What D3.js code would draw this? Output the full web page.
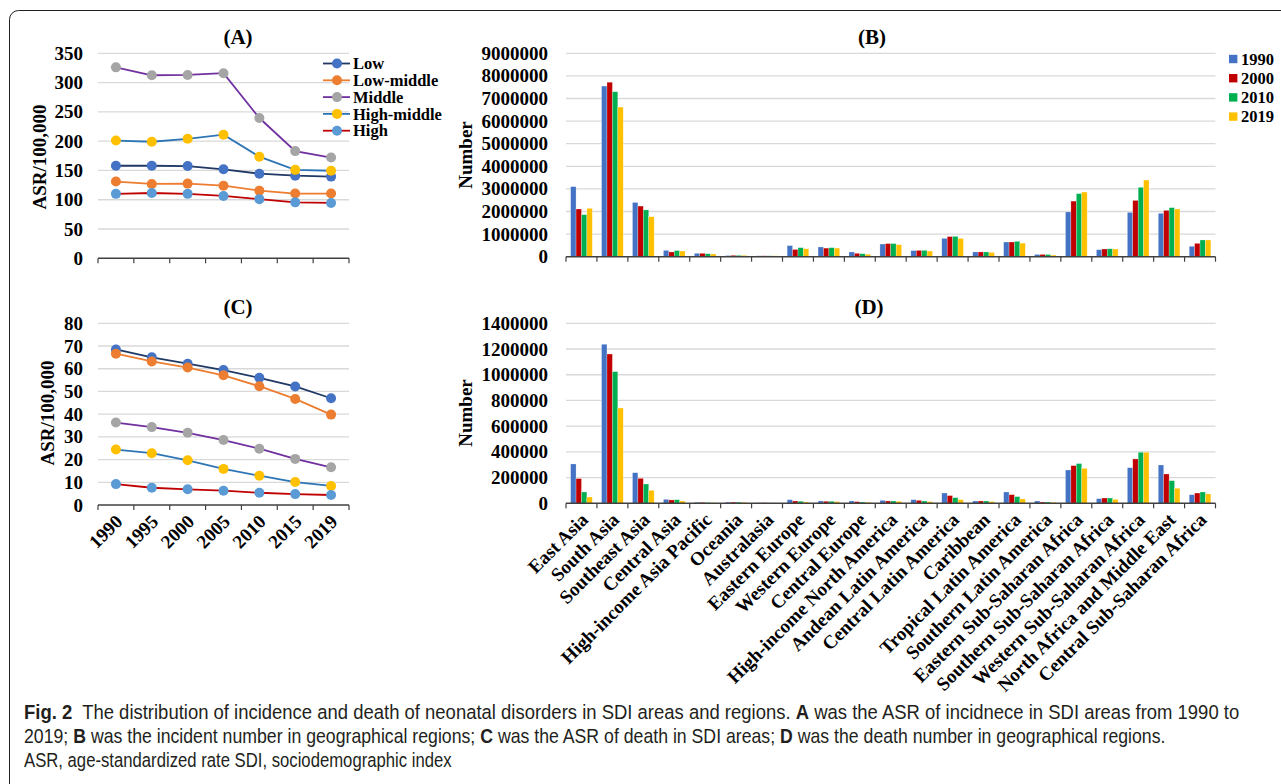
<!DOCTYPE html>
<html><head><meta charset="utf-8">
<script src="https://cdn.jsdelivr.net/npm/d3@7"></script>
<style>
html,body{margin:0;padding:0;background:#fff;}
svg{display:block;}
</style></head>
<body>
<svg id="chart" width="1281" height="784"></svg>
<script>
// ---------- DATA ----------
const years = ["1990","1995","2000","2005","2010","2015","2019"];
const sdiGroups = ["Low","Low-middle","Middle","High-middle","High"];

// (A) ASR of incidence per 100,000
const incLow     = [158,158,157.5,152,144.5,141,139.5];
const incLowMid  = [131,127,127.5,124,115.5,110.5,110.5];
const incMid     = [326,312.5,313,316,239.5,183,172];
const incHighMid = [201,199,204,211,173.5,151,149.5];
const incHigh    = [110,111.5,110,106.5,101,95.5,94.5];

// (C) ASR of death per 100,000
const deathLow     = [68.5,65,62.2,59.4,56,52.2,47];
const deathLowMid  = [66.6,63.2,60.5,57.1,52.3,46.7,39.8];
const deathMid     = [36.3,34.3,31.8,28.6,24.8,20.3,16.6];
const deathHighMid = [24.4,22.8,19.7,15.9,12.9,10.1,8.4];
const deathHigh    = [9.2,7.6,6.9,6.3,5.4,4.8,4.4];

const regions = ["East Asia","South Asia","Southeast Asia","Central Asia","High-income Asia Pacific","Oceania","Australasia","Eastern Europe","Western Europe","Central Europe","High-income North America","Andean Latin America","Central Latin America","Caribbean","Tropical Latin America","Southern Latin America","Eastern Sub-Saharan Africa","Southern Sub-Saharan Africa","Western Sub-Saharan Africa","North Africa and Middle East","Central Sub-Saharan Africa"];
const barYears = ["1990","2000","2010","2019"];

// (B) incident number
const inc1990 = [3100000,7550000,2400000,280000,150000,50000,40000,490000,430000,210000,560000,270000,810000,210000,650000,100000,1980000,310000,1960000,1920000,460000];
const inc2000 = [2110000,7720000,2240000,210000,150000,60000,40000,320000,380000,150000,580000,280000,890000,210000,650000,100000,2460000,340000,2490000,2050000,590000];
const inc2010 = [1860000,7300000,2070000,270000,130000,60000,40000,400000,400000,130000,580000,280000,900000,210000,680000,100000,2790000,350000,3070000,2170000,740000];
const inc2019 = [2140000,6620000,1770000,250000,120000,60000,40000,350000,380000,110000,530000,250000,810000,190000,600000,70000,2860000,340000,3390000,2110000,740000];

// (D) death number
const death1990 = [306000,1237000,238000,31000,8000,9000,4000,28000,18000,18000,23000,28000,80000,18000,88000,18000,259000,36000,277000,298000,67000];
const death2000 = [192000,1161000,194000,26000,7000,9000,4000,18000,16000,13000,18000,23000,60000,18000,67000,10000,293000,41000,345000,228000,80000];
const death2010 = [88000,1024000,150000,28000,6000,9000,3000,16000,16000,10000,18000,18000,44000,18000,52000,10000,309000,41000,397000,176000,88000];
const death2019 = [49000,741000,101000,18000,5000,8000,3000,10000,13000,8000,16000,13000,28000,13000,34000,8000,272000,31000,397000,117000,73000];

const ticksA = [0,50,100,150,200,250,300,350];
const ticksC = [0,10,20,30,40,50,60,70,80];
const ticksB = [0,1000000,2000000,3000000,4000000,5000000,6000000,7000000,8000000,9000000];
const ticksD = [0,200000,400000,600000,800000,1000000,1200000,1400000];

// ---------- STYLE ----------
const SERIF = "'Liberation Serif','Times New Roman',serif";
const lineColors   = ["#1f3864","#ed7d31","#7030a0","#2e75b6","#c00000"];
const markerColors = ["#4472c4","#ed7d31","#a5a5a5","#ffc000","#5b9bd5"];
const barColors    = ["#4472c4","#c00000","#00b050","#ffc000"];
const gridColor = "#d9d9d9";
const axisColor = "#404040";

const svg = d3.select("#chart");
svg.append("rect").attr("width",1281).attr("height",784).attr("fill","#fff");
svg.append("rect").attr("x",9.5).attr("y",10.5).attr("width",1300).attr("height",820)
  .attr("rx",9).attr("fill","none").attr("stroke","#231f20").attr("stroke-width",1);

function yAxisGrid(g, y, x0, x1, ticks, labelX, fmt){
  g.append("g").selectAll("line").data(ticks.slice(1)).join("line")
    .attr("x1",x0).attr("x2",x1).attr("y1",d=>y(d)).attr("y2",d=>y(d))
    .attr("stroke",gridColor).attr("stroke-width",1.3);
  const ax = g.append("g").attr("transform",`translate(${labelX},0)`)
    .call(d3.axisLeft(y).tickValues(ticks).tickSize(0).tickPadding(0).tickFormat(fmt));
  ax.select(".domain").remove();
  ax.selectAll("text").attr("font-family",SERIF).attr("font-weight","bold")
    .attr("font-size",19).attr("fill","#000");
}
function xAxisLine(g, x, yPos, n){
  const r = x.range(), step = x.step();
  g.append("line").attr("x1",r[0]).attr("x2",r[1]).attr("y1",yPos).attr("y2",yPos)
    .attr("stroke",axisColor).attr("stroke-width",1.4);
  g.append("g").selectAll("line").data(d3.range(n+1)).join("line")
    .attr("x1",i=>r[0]+i*step).attr("x2",i=>r[0]+i*step)
    .attr("y1",yPos).attr("y2",yPos+5).attr("stroke",axisColor).attr("stroke-width",1.2);
}
function title(txt,x,y){
  svg.append("text").attr("x",x).attr("y",y).attr("text-anchor","middle")
    .attr("font-family",SERIF).attr("font-weight","bold").attr("font-size",21).text(txt);
}
function yTitle(txt,x,y){
  svg.append("text").attr("transform",`translate(${x},${y}) rotate(-90)`)
    .attr("text-anchor","middle").attr("dy","0.35em")
    .attr("font-family",SERIF).attr("font-weight","bold").attr("font-size",19).text(txt);
}

// ---------- LINE PANELS ----------
function linePanel(series, ticks, yTop, yBot, maxV, showYears){
  const x = d3.scaleBand().domain(years).range([98,349]).paddingInner(0).paddingOuter(0);
  const y = d3.scaleLinear().domain([0,maxV]).range([yBot,yTop]);
  const g = svg.append("g");
  yAxisGrid(g, y, 98, 349, ticks, 83, d3.format("d"));
  xAxisLine(g, x, yBot, years.length);
  const line = d3.line().x((d,i)=>x(years[i])+x.bandwidth()/2).y(d=>y(d));
  series.forEach((s,k)=>{
    g.append("path").attr("d",line(s)).attr("fill","none")
      .attr("stroke",lineColors[k]).attr("stroke-width",1.8);
    g.append("g").selectAll("circle").data(s).join("circle")
      .attr("cx",(d,i)=>x(years[i])+x.bandwidth()/2).attr("cy",d=>y(d))
      .attr("r",5).attr("fill",markerColors[k]);
  });
  if(showYears){
    g.append("g").selectAll("text").data(years).join("text")
      .attr("transform",d=>`translate(${x(d)+x.bandwidth()/2+3},${yBot+13}) rotate(-45)`)
      .attr("text-anchor","end").attr("dy","0.35em")
      .attr("font-family",SERIF).attr("font-weight","bold").attr("font-size",19).text(d=>d);
  }
  return g;
}
linePanel([incLow,incLowMid,incMid,incHighMid,incHigh], ticksA, 53.3, 258.3, 350, false);
linePanel([deathLow,deathLowMid,deathMid,deathHighMid,deathHigh], ticksC, 323.3, 505, 80, true);
title("(A)",238,44);
title("(C)",238,314);
yTitle("ASR/100,000",39,157);
yTitle("ASR/100,000",47,413);

// legend A
const legA = svg.append("g");
sdiGroups.forEach((name,k)=>{
  const yy = 63.5 + k*16.8;
  legA.append("line").attr("x1",323).attr("x2",350).attr("y1",yy).attr("y2",yy)
    .attr("stroke",lineColors[k]).attr("stroke-width",1.8);
  legA.append("circle").attr("cx",337).attr("cy",yy).attr("r",5).attr("fill",markerColors[k]);
  legA.append("text").attr("x",353).attr("y",yy).attr("dy","0.35em")
    .attr("font-family",SERIF).attr("font-weight","bold").attr("font-size",16.5).text(name);
});

// ---------- BAR PANELS ----------
function barPanel(series, ticks, yTop, yBot, maxV, showLabels){
  const x0 = d3.scaleBand().domain(regions).range([566,1215.5]).paddingInner(0.3).paddingOuter(0.15);
  const x1 = d3.scaleBand().domain(barYears).range([0,x0.bandwidth()]).padding(0);
  const y = d3.scaleLinear().domain([0,maxV]).range([yBot,yTop]);
  const g = svg.append("g");
  yAxisGrid(g, y, 566, 1215.5, ticks, 548, d3.format("d"));
  const xb = d3.scaleBand().domain(regions).range([566,1215.5]);
  regions.forEach((r,i)=>{
    barYears.forEach((yr,j)=>{
      const v = series[j][i];
      g.append("rect").attr("x",x0(r)+x1(yr)).attr("width",x1.bandwidth())
        .attr("y",y(v)).attr("height",yBot-y(v)).attr("fill",barColors[j])
        .attr("stroke","#ffffff").attr("stroke-opacity",0.5).attr("stroke-width",0.5);
    });
  });
  xAxisLine(g, xb, yBot, regions.length);
  if(showLabels){
    g.append("g").selectAll("text").data(regions).join("text")
      .attr("transform",d=>`translate(${xb(d)+xb.bandwidth()/2+3},${yBot+13}) rotate(-45)`)
      .attr("text-anchor","end").attr("dy","0.35em")
      .attr("font-family",SERIF).attr("font-weight","bold").attr("font-size",19).text(d=>d);
  }
}
barPanel([inc1990,inc2000,inc2010,inc2019], ticksB, 53.3, 256.7, 9000000, false);
barPanel([death1990,death2000,death2010,death2019], ticksD, 323.3, 503.3, 1400000, true);
title("(B)",872,44);
title("(D)",869,314);
yTitle("Number",465,155);
yTitle("Number",465,413);

// legend B
const legB = svg.append("g");
barYears.forEach((yr,j)=>{
  const yy = 59 + j*19.2;
  legB.append("rect").attr("x",1229).attr("y",yy-4.2).attr("width",8.4).attr("height",8.4).attr("fill",barColors[j]);
  legB.append("text").attr("x",1241).attr("y",yy).attr("dy","0.35em")
    .attr("font-family",SERIF).attr("font-weight","bold").attr("font-size",16.5).text(yr);
});

// ---------- CAPTION ----------
const CAP = "'Liberation Sans Narrow','Liberation Sans','DejaVu Sans Condensed',sans-serif";
const capLines = [
  {y:719, w:1216, parts:[["Fig. 2",true],["  The distribution of incidence and death of neonatal disorders in SDI areas and regions. ",false],["A",true],[" was the ASR of incidnece in SDI areas from 1990 to",false]]},
  {y:743, w:1142, parts:[["2019; ",false],["B",true],[" was the incident number in geographical regions; ",false],["C",true],[" was the ASR of death in SDI areas; ",false],["D",true],[" was the death number in geographical regions.",false]]},
  {y:767, w:428, parts:[["ASR, age-standardized rate SDI, sociodemographic index",false]]}
];
capLines.forEach(L=>{
  const t = svg.append("text").attr("x",0).attr("y",0)
    .attr("font-family",CAP).attr("font-size",19.5).attr("fill","#231f20")
    .style("white-space","pre");
  L.parts.forEach(p=>{
    t.append("tspan").attr("font-weight",p[1]?"bold":"normal").text(p[0]);
  });
  const k = L.w / t.node().getComputedTextLength();
  t.attr("transform",`translate(24,${L.y}) scale(${k},1)`);
});
</script>
</body></html>
